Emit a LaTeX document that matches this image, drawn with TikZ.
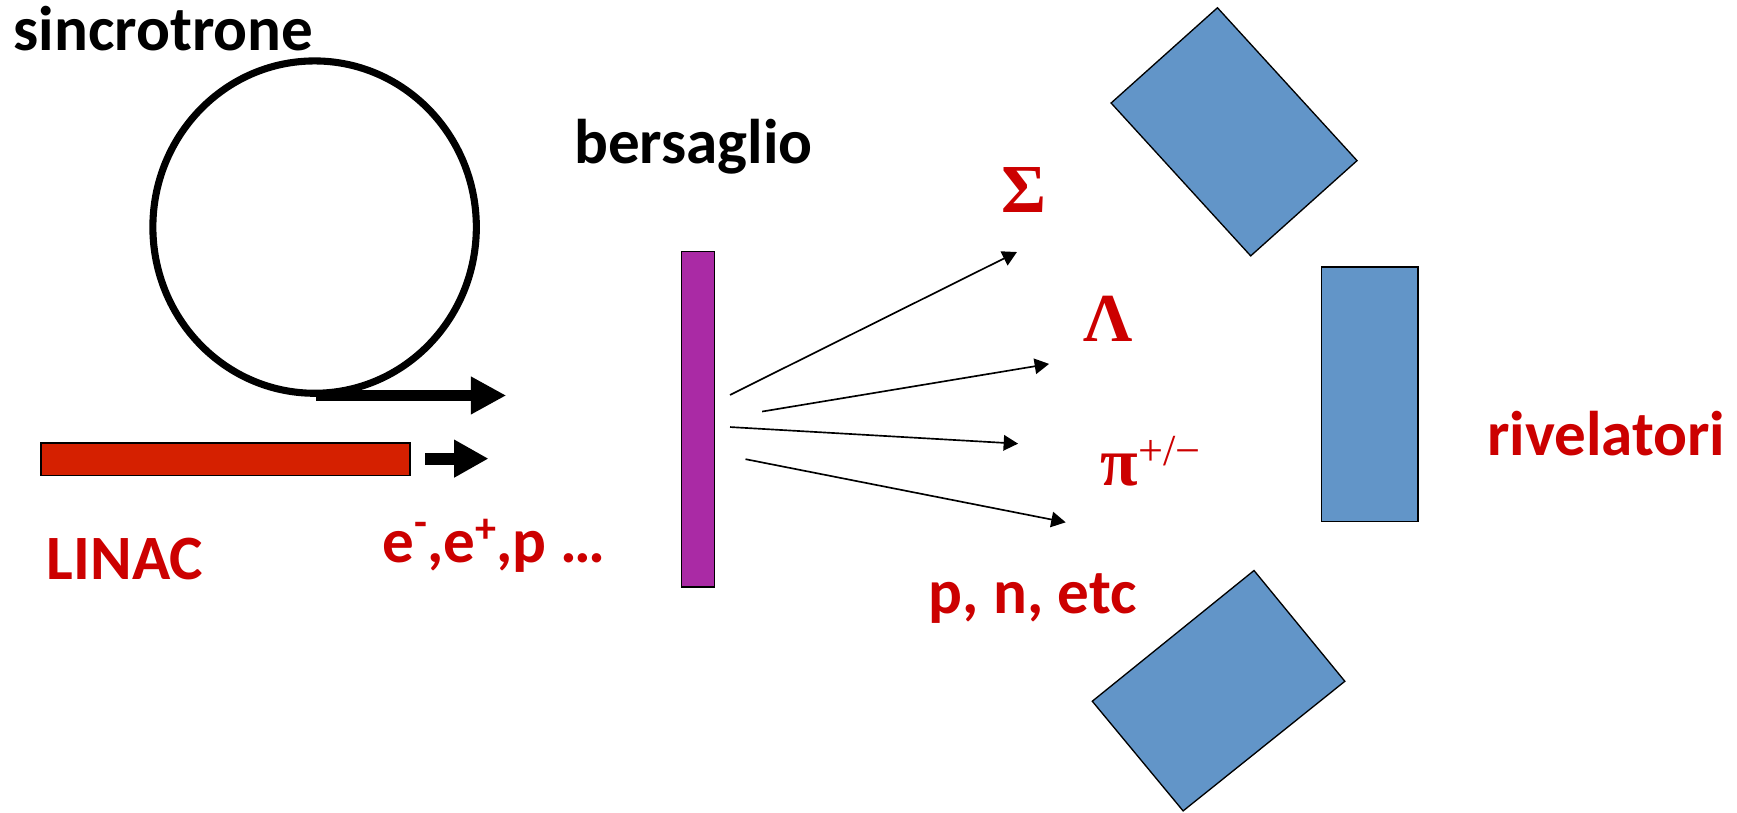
\documentclass[tikz,border=0pt]{standalone}
\usepackage{fontspec}
\setmainfont{Carlito}
\newfontfamily\greekfont{Liberation Serif}
\usetikzlibrary{arrows.meta,shapes.geometric}
\definecolor{txtred}{RGB}{204,0,0}
\definecolor{linacred}{RGB}{213,32,0}
\definecolor{targetpurple}{RGB}{170,42,165}
\definecolor{detblue}{RGB}{98,149,200}
\begin{document}
\begin{tikzpicture}[x=0.5pt,y=-0.5pt,
  lbl/.style={anchor=base west, inner sep=0pt, font=\fontsize{28.5}{34}\selectfont\bfseries},
  redlbl/.style={lbl, text=txtred},
  greek/.style={anchor=base west, inner sep=0pt, text=txtred, font=\greekfont\fontsize{31}{36}\selectfont\bfseries},
  fatarrow/.style={line width=5pt, -{Triangle[length=16pt,width=16pt]}},
  thinarrow/.style={line width=0.75pt, -{Triangle[length=6.5pt,width=7pt]}},
  detector/.style={draw=black, line width=0.6pt, fill=detblue},
  box/.style={draw=black, line width=0.6pt, inner sep=0pt}]
\useasboundingbox (0,0) rectangle (1568,733);

% synchrotron ring
\node[ellipse, draw=black, line width=3.2pt, minimum width=146pt, minimum height=150pt, inner sep=0pt] (ring) at (284,205) {};
\coordinate (ringout) at (285,357);
\coordinate (bigtip) at (457,357);
\draw[fatarrow] (ringout) -- (bigtip);

% LINAC
\node[box, fill=linacred, minimum width=166.5pt, minimum height=14.5pt] (linac) at (203.5,414.5) {};
\coordinate (sa1) at (384,414);
\coordinate (sa2) at (441,414);
\draw[fatarrow, line width=5.5pt, -{Triangle[length=15.5pt,width=16pt]}] (sa1) -- (sa2);

% target
\node[box, fill=targetpurple, minimum width=15pt, minimum height=151.5pt] (target) at (630,378.5) {};

% outgoing particles
\coordinate (s1) at (659,356.5);
\coordinate (e1) at (918,227.5);
\coordinate (s2) at (688,371.5);
\coordinate (e2) at (947,328.5);
\coordinate (s3) at (659,385.5);
\coordinate (e3) at (919,400.5);
\coordinate (s4) at (673,414.5);
\coordinate (e4) at (962,471.5);
\draw[thinarrow] (s1) -- (e1);
\draw[thinarrow] (s2) -- (e2);
\draw[thinarrow] (s3) -- (e3);
\draw[thinarrow] (s4) -- (e4);

% detectors
\draw[detector] (1003,93) -- (1099,7) -- (1225,145) -- (1129,231) -- cycle;
\draw[detector] (1193,241) rectangle (1280,471);
\draw[detector] (986,633) -- (1132,515) -- (1214,615) -- (1068,732) -- cycle;

% labels
\node[lbl] (sinc) at (12,46) {sincrotrone};
\node[lbl] (bers) at (518,148) {bersaglio};
\node[redlbl] (riv) at (1342,411) {rivelatori};
\node[redlbl] (lin) at (42,523) {LINAC};
\node[redlbl] (beam) at (345,508) {e\raisebox{0.42em}{\fontsize{19}{19}\selectfont -},e\raisebox{0.32em}{\fontsize{19}{19}\selectfont +},p …};
\node[redlbl] (pn) at (838,554) {p, n, etc};
\node[greek] (sig) at (904,192) {Σ};
\node[greek] (lam) at (978,308) {Λ};
\node[greek] (pi) at (993,438) {π\raisebox{9pt}{\fontsize{20}{20}\selectfont\mdseries +/−}};
\end{tikzpicture}
\end{document}
